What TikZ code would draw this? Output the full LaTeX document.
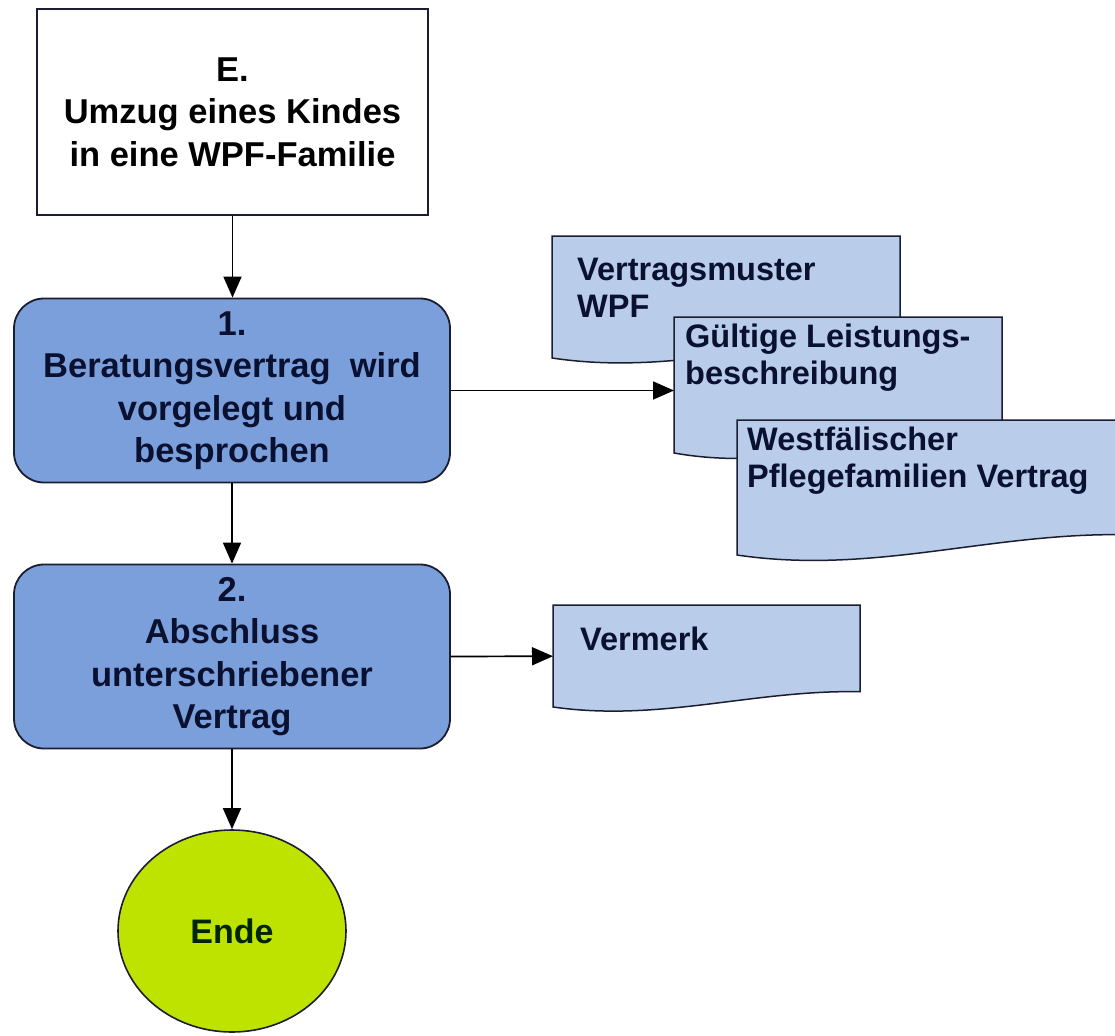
\documentclass[tikz,border=0pt]{standalone}
\usepackage{fontspec}
\setmainfont{Liberation Sans}
\usetikzlibrary{arrows.meta,shapes.geometric}
\definecolor{stepblue}{HTML}{7B9FDB}
\definecolor{docblue}{HTML}{B9CDEB}
\definecolor{endegreen}{HTML}{BEE300}
\definecolor{navytext}{HTML}{0A1030}
\definecolor{edgecol}{HTML}{1A1E30}
\tikzset{
  boxfont/.style={font=\fontsize{34.5}{42.5}\selectfont\bfseries},
  docfont/.style={font=\fontsize{32.5}{37.5}\selectfont\bfseries, text=navytext},
  startbox/.style={draw=edgecol, line width=1.8pt, fill=white, rectangle, inner sep=0pt,
    minimum width=391pt, minimum height=206pt, align=center, boxfont, text=black},
  stepbox/.style={draw=edgecol, line width=1.8pt, fill=stepblue, rectangle, rounded corners=30pt,
    inner sep=0pt, minimum width=436pt, minimum height=184pt, align=center, boxfont, text=navytext},
  endnode/.style={draw=edgecol, line width=1.6pt, fill=endegreen, ellipse, inner sep=0pt,
    minimum width=228pt, minimum height=202pt, font=\fontsize{34}{40}\selectfont\bfseries, text=black!85!green},
  docbox/.style={rectangle, inner sep=0pt, draw=none},
  docstyle/.style={draw=edgecol, line width=1.5pt, fill=docblue},
  doctext/.style={docfont, align=left, inner sep=0pt, anchor=base west},
  arr/.style={draw=black, line width=1.7pt, -{Triangle[length=21pt,width=18pt]}},
}
\newcommand\docpath[4]{%
  \filldraw[docstyle] (#1,#2) -- ({#1+#3},#2) -- ({#1+#3},{#2+0.85*#4})
    .. controls ({#1+0.65*#3},{#2+0.83*#4}) and ({#1+0.35*#3},{#2+1.15*#4}) .. (#1,{#2+#4}) -- cycle;}
\begin{document}
\begin{tikzpicture}[x=1pt,y=-1pt]
\useasboundingbox (0,0) rectangle (1115,1035);
\fill[white] (0,0) rectangle (1115,1035);

% main flow
\node[startbox] (E) at (232.5,112) {E.\\Umzug eines Kindes\\in eine WPF-Familie};
\node[stepbox] (b1) at (232,390.5) {1.\\Beratungsvertrag\ \ wird\\vorgelegt und\\besprochen};
\node[stepbox] (b2) at (232,656.5) {2.\\Abschluss\\unterschriebener\\Vertrag};
\node[endnode] (ende) at (232,931) {Ende};

% documents (text anchored at baseline of last line)
\docpath{552}{236}{348}{122}
\node[docbox, minimum width=348pt, minimum height=122pt, anchor=north west] (dA) at (552,236) {};
\node[doctext] (dAt) at (577,317.5) {Vertragsmuster\\WPF};

\docpath{674}{317}{328}{136}
\node[docbox, minimum width=328pt, minimum height=136pt, anchor=north west] (dB) at (674,317) {};
\node[doctext] (dBt) at (685,384.5) {Gültige Leistungs-\\beschreibung};

\docpath{737}{420}{390}{135}
\node[docbox, minimum width=390pt, minimum height=135pt, anchor=north west] (dC) at (737,420) {};
\node[doctext] (dCt) at (747,487.5) {Westfälischer\\Pflegefamilien Vertrag};

\docpath{553}{605}{307}{102}
\node[docbox, minimum width=307pt, minimum height=102pt, anchor=north west] (vm) at (553,605) {};
\node[doctext] (vmt) at (580,650) {Vermerk};

% connectors
\draw[arr] (E.south) -- (E.south |- b1.north);
\draw[arr] (b1.south) -- (b2.north);
\draw[arr] (b2.south) -- (ende.north);
\draw[arr] (b1.east) -- (b1.east -| dB.west);
\draw[arr] (b2.east) -- (vm.west);
\end{tikzpicture}
\end{document}
